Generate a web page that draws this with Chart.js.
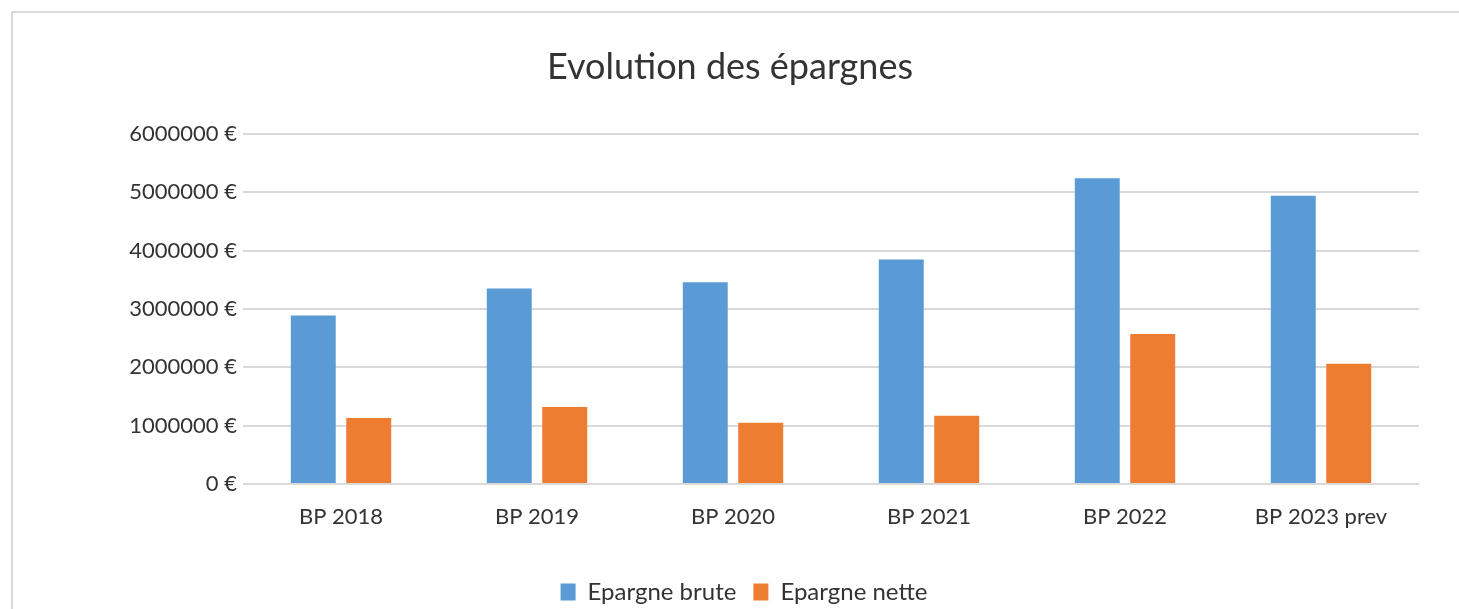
<!DOCTYPE html>
<html>
<head>
<meta charset="utf-8">
<script src="https://cdn.jsdelivr.net/npm/chart.js@4"></script>
<style>
  html, body { margin: 0; padding: 0; background: #ffffff; overflow: hidden; }
  #frame { position: absolute; left: 11px; top: 11px; width: 1600px; height: 700px; border: 2px solid #d9d9d9; box-sizing: border-box; }
  #wrap { position: absolute; left: 41px; top: 0; width: 1418px; height: 614px; }
</style>
</head>
<body>
<div id="frame"></div>
<div id="wrap"><canvas id="c" width="1418" height="614"></canvas></div>
<script>
const chartTitle = "Evolution des épargnes";
const categories = ["BP 2018", "BP 2019", "BP 2020", "BP 2021", "BP 2022", "BP 2023 prev"];
const seriesNames = ["Epargne brute", "Epargne nette"];
const epargneBrute = [2890000, 3350000, 3460000, 3850000, 5240000, 4940000];
const epargneNette = [1130000, 1320000, 1050000, 1170000, 2570000, 2060000];
const yTicks = [0, 1000000, 2000000, 3000000, 4000000, 5000000, 6000000];

const FONT = "Lato";
const TEXT = "#333333";

const legendShift = {
  id: "legendShift",
  afterLayout(chart) {
    if (chart.legend) { chart.legend.left += 14; chart.legend.right += 14; }
  }
};

new Chart(document.getElementById("c"), {
  type: "bar",
  data: {
    labels: categories,
    datasets: [
      { label: seriesNames[0], data: epargneBrute, backgroundColor: "#5b9bd5", borderWidth: 0,
        categoryPercentage: 0.566, barPercentage: 0.81 },
      { label: seriesNames[1], data: epargneNette, backgroundColor: "#ed7d31", borderWidth: 0,
        categoryPercentage: 0.566, barPercentage: 0.81 }
    ]
  },
  plugins: [legendShift],
  options: {
    responsive: false,
    animation: false,
    layout: { padding: { left: 0, right: 40, top: 0, bottom: 0 } },
    plugins: {
      title: {
        display: true,
        text: chartTitle,
        color: TEXT,
        font: { family: FONT, size: 36, weight: "normal", lineHeight: 1.2 },
        padding: { top: 45.4, bottom: 45.4 }
      },
      legend: {
        display: true,
        position: "bottom",
        labels: {
          color: TEXT,
          font: { family: FONT, size: 24 },
          boxWidth: 15,
          boxHeight: 17,
          padding: 17
        }
      },
      tooltip: { enabled: false }
    },
    scales: {
      x: {
        grid: { display: false, drawTicks: false },
        border: { display: false },
        ticks: { color: TEXT, font: { family: FONT, size: 22 }, padding: 20, maxRotation: 0 },
        afterFit: (s) => { s.height = 79; }
      },
      y: {
        min: 0,
        max: 6000000,
        afterBuildTicks: (s) => { s.ticks = yTicks.map(v => ({ value: v })); },
        grid: { color: "#d9d9d9", lineWidth: 2, drawTicks: false },
        border: { display: false },
        ticks: {
          color: TEXT,
          font: { family: FONT, size: 22 },
          padding: 6,
          callback: (v) => v + " €"
        },
        afterFit: (s) => { s.width = 202; }
      }
    }
  }
});
</script>
</body>
</html>
